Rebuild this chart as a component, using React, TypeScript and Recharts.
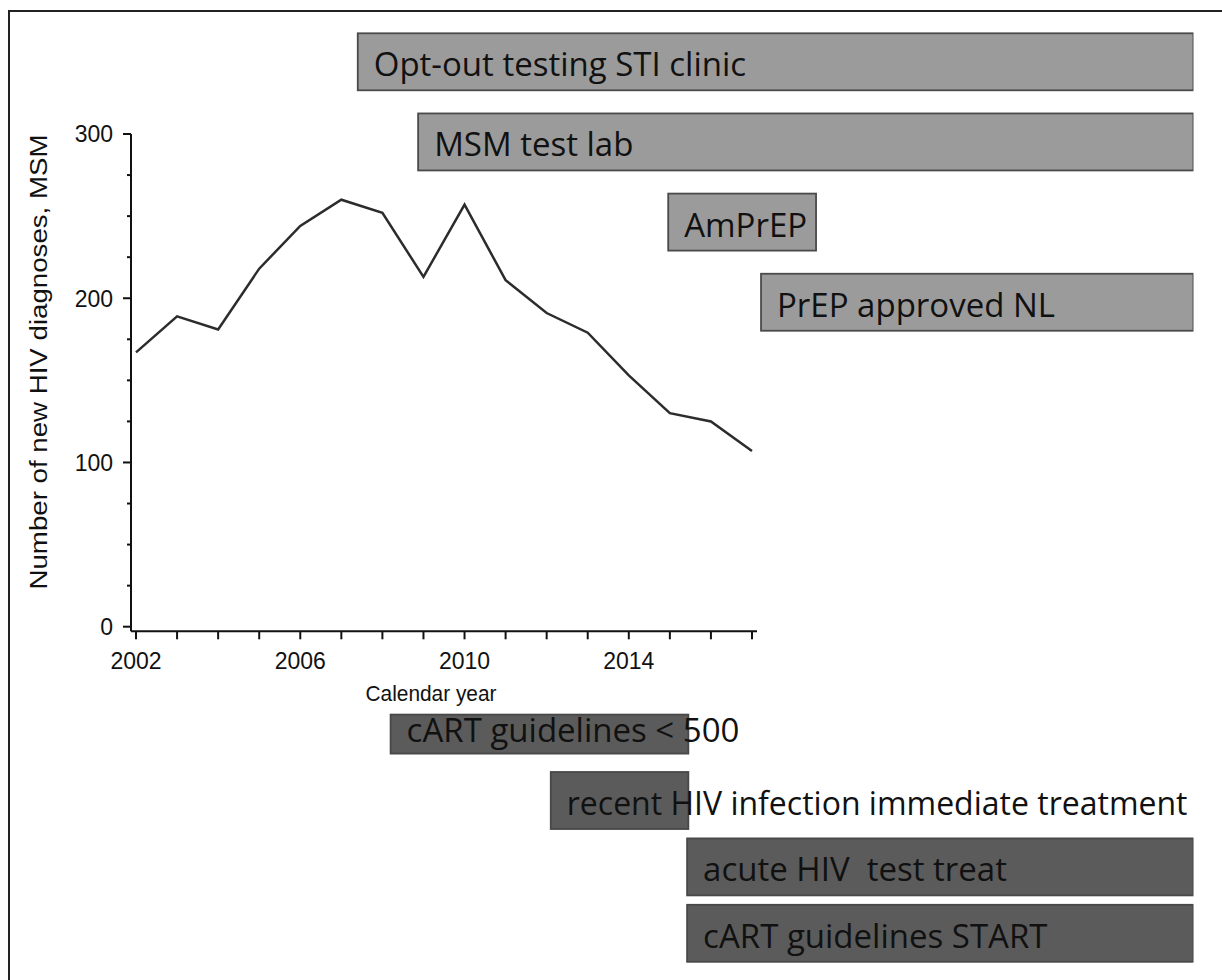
import React from "react";
import { LineChart, Line, BarChart, Bar, XAxis, YAxis } from "recharts";

// new HIV diagnoses among MSM per calendar year
const years = [2002, 2003, 2004, 2005, 2006, 2007, 2008, 2009, 2010, 2011, 2012, 2013, 2014, 2015, 2016, 2017];
const newDiagnoses = [167, 189, 181, 218, 244, 260, 252, 213, 257, 211, 191, 179, 153, 130, 125, 107];
const labelledYears = [2002, 2006, 2010, 2014];
const yTicks = [0, 25, 50, 75, 100, 125, 150, 175, 200, 225, 250, 275, 300];
const labelledCounts = [0, 100, 200, 300];

// testing / prevention interventions (light bars, above the chart)
const testingLabels = ["Opt-out testing STI clinic", "MSM test lab", "AmPrEP", "PrEP approved NL"];
const testingStart = [2007.4, 2008.87, 2014.96, 2017.22];
const testingEnd = [2027.75, 2027.75, 2018.56, 2027.75];

// treatment interventions (dark bars, below the chart)
const treatmentLabels = ["cART guidelines < 500", "recent HIV infection immediate treatment", "acute HIV  test treat", "cART guidelines START"];
const treatmentStart = [2008.2, 2012.1, 2015.42, 2015.42];
const treatmentEnd = [2015.45, 2015.45, 2027.75, 2027.75];

const W = 1222;
const H = 980;
const PLOT_LEFT = 131;
const PLOT_RIGHT = 757;
const PLOT_TOP = 134;
const PLOT_BOTTOM = 631.3;
const X_MIN = 2001.878;
const X_MAX = 2017.122;
const X_END = 2027.75;
const Y_MIN = -2.8;
const Y_AXIS_W = 90;
const X_AXIS_H = 60;
const TICK_SIZE = 8;
const TICK_MARGIN = 10;
const pxPerYear = (PLOT_RIGHT - PLOT_LEFT) / (X_MAX - X_MIN);
const barsRight = W - (PLOT_LEFT + (X_END - X_MIN) * pxPerYear);

const lineData = years.map((year, i) => ({ year, diagnoses: newDiagnoses[i] }));
const testingData = testingLabels.map((label, i) => ({ label, range: [testingStart[i], testingEnd[i]] }));
const treatmentData = treatmentLabels.map((label, i) => ({ label, range: [treatmentStart[i], treatmentEnd[i]] }));

const axisFont = "'Liberation Sans', Arial, sans-serif";
const boxFont = "'Open Sans', sans-serif";
const ink = "#111";

// the short "< 500" box is thinner than the others
const compactRows: Record<string, { height: number; textShift: number }> = {
  "cART guidelines < 500": { height: 39, textShift: 8 },
};
// Open Sans runs wider than the original font on this long one
const fitSizes: Record<string, number> = {
  "recent HIV infection immediate treatment": 32,
};

const YTick = (props: any) => {
  const { x, y, payload } = props;
  const axisX = x + TICK_SIZE + TICK_MARGIN;
  const major = labelledCounts.includes(payload.value);
  return (
    <g>
      <line x1={axisX} x2={axisX - (major ? 8 : 4)} y1={y} y2={y} stroke={ink} strokeWidth={2} />
      {major && (
        <text x={x} y={y} dy="0.36em" textAnchor="end" fontSize={23} fontFamily={axisFont} fill={ink}>
          {payload.value}
        </text>
      )}
    </g>
  );
};

const yLabel = () => (
  <text
    x={47} y={362} transform="rotate(-90 47 362)" textAnchor="middle"
    fontSize={23} fontFamily={axisFont} fill={ink} textLength={455} lengthAdjust="spacingAndGlyphs"
  >
    Number of new HIV diagnoses, MSM
  </text>
);

const xLabel = () => (
  <text x={431} y={701} textAnchor="middle" fontSize={22} fontFamily={axisFont} fill={ink} textLength={131} lengthAdjust="spacingAndGlyphs">
    Calendar year
  </text>
);

const makeBox = (fill: string, stroke: string) => (props: any) => {
  const { x, y, width, height, payload } = props;
  const compact = compactRows[payload.label];
  const h = compact ? compact.height : height;
  const top = y + (height - h) / 2;
  const cy = y + height / 2;
  return (
    <g>
      <rect x={x} y={top} width={width} height={h} fill={fill} stroke={stroke} strokeWidth={1.8} />
      <text
        x={x + 16} y={cy + (compact ? compact.textShift : 14.5)}
        fontSize={fitSizes[payload.label] ?? 33} fontFamily={boxFont} fill={ink} style={{ whiteSpace: "pre" }}
      >
        {payload.label}
      </text>
    </g>
  );
};

const InterventionBars: React.FC<{ data: any[]; top: number; bottom: number; fill: string; stroke: string }> = ({ data, top, bottom, fill, stroke }) => (
  <div style={{ position: "absolute", left: 0, top: 0 }}>
    <BarChart
      width={W} height={H} data={data} layout="vertical"
      margin={{ top, bottom: H - bottom, left: PLOT_LEFT, right: barsRight }}
    >
      <XAxis type="number" scale="linear" domain={[X_MIN, X_END]} allowDataOverflow hide />
      <YAxis type="category" dataKey="label" width={0} hide />
      <Bar dataKey="range" barSize={57} isAnimationActive={false} shape={makeBox(fill, stroke)} />
    </BarChart>
  </div>
);

export default function App() {
  return (
    <div style={{ position: "absolute", left: 0, top: 0, width: W, height: H, overflow: "hidden", background: "#fff" }}>
      <div style={{ position: "absolute", left: 8, top: 10, width: W + 40, height: H + 40, borderLeft: "2px solid #222", borderTop: "2px solid #222" }} />

      <div style={{ position: "absolute", left: 0, top: 0 }}>
        <LineChart
          width={W} height={H} data={lineData}
          margin={{ top: PLOT_TOP, left: PLOT_LEFT - Y_AXIS_W, right: W - PLOT_RIGHT, bottom: H - PLOT_BOTTOM - X_AXIS_H }}
        >
          <XAxis
            dataKey="year" type="number" scale="linear" domain={[X_MIN, X_MAX]} ticks={years}
            height={X_AXIS_H} tickSize={TICK_SIZE} tickMargin={13}
            tickFormatter={(v: number) => (labelledYears.includes(v) ? String(v) : "")}
            tick={{ fill: ink, fontSize: 23, fontFamily: axisFont }}
            axisLine={{ stroke: ink, strokeWidth: 2 }} tickLine={{ stroke: ink, strokeWidth: 2 }}
            interval={0} allowDataOverflow label={xLabel}
          />
          <YAxis
            type="number" scale="linear" domain={[Y_MIN, 300]} ticks={yTicks} allowDataOverflow
            width={Y_AXIS_W} tickSize={TICK_SIZE} tickMargin={TICK_MARGIN} interval={0}
            tick={<YTick />} tickLine={false} axisLine={{ stroke: ink, strokeWidth: 2 }} label={yLabel}
          />
          <Line
            type="linear" dataKey="diagnoses" stroke="#2c2c2c" strokeWidth={2.5}
            dot={false} isAnimationActive={false}
          />
        </LineChart>
      </div>

      <InterventionBars data={testingData} top={21.3} bottom={341.9} fill="#9b9b9b" stroke="#4a4a4a" />
      <InterventionBars data={treatmentData} top={700.6} bottom={966.2} fill="#5b5b5b" stroke="#484848" />
    </div>
  );
}
